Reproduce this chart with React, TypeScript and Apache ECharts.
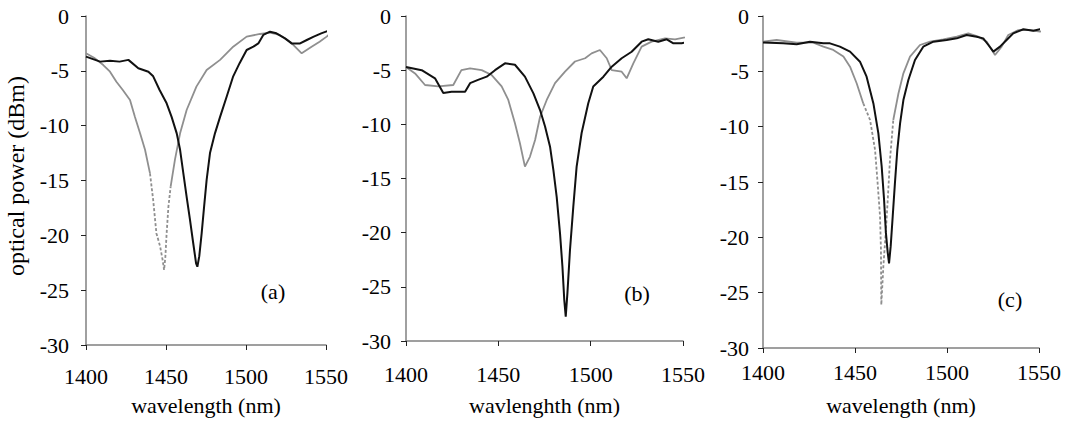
import React, { useEffect, useRef } from "react";
import * as echarts from "echarts";

// ---- tick labels / texts ----
const xMin = 1400;
const xMax = 1550;
const xStep = 50;
const yMin = -30;
const yMax = 0;
const yStep = 5;
const panelLabels = ["(a)", "(b)", "(c)"];
const xTitles = ["wavelength (nm)", "wavlenghth (nm)", "wavelength (nm)"];
const yTitle = "optical power (dBm)";

// ---- panel (a) ----
const aBlack: [number, number][] = [
  [1400, -3.7], [1408.8, -4.16], [1415, -4.07], [1421, -4.16], [1426.5, -4.0], [1432.7, -4.77],
  [1439, -5.08], [1442, -5.5], [1446, -6.75], [1450.4, -7.96], [1453.5, -9.2], [1456.7, -10.7],
  [1458.8, -12.2], [1460.8, -14.3], [1462.9, -16.5], [1465, -18.6], [1467, -20.7], [1468.8, -22.55],
  [1469.6, -22.86], [1470.8, -21.9], [1472.3, -19.8], [1473.8, -17.4], [1475.4, -14.95], [1477.5, -12.5],
  [1480.6, -10.7], [1483.8, -9.2], [1487.9, -7.36], [1492, -5.5], [1496, -4.3], [1500.4, -3.1],
  [1504.6, -2.8], [1507.7, -2.5], [1510.8, -1.73], [1515, -1.43], [1519, -1.58], [1524.4, -2.04],
  [1528.5, -2.5], [1533.8, -2.5], [1538, -2.19], [1542, -1.9], [1547, -1.58], [1551.5, -1.34], [1554, -1.34],
];
const aGrey: [number, number][] = [
  [1400, -3.4], [1405.6, -3.86], [1410.8, -4.47], [1415, -5.08], [1419, -6.0], [1423, -6.75],
  [1427.5, -7.66], [1430.6, -9.2], [1433.8, -10.7], [1436.9, -12.2], [1440, -14.35], [1442, -16.8],
  [1444, -19.8], [1446.3, -21.0], [1447.9, -22.25], [1448.8, -23.16], [1449.6, -21.95], [1450.4, -19.8],
  [1451.5, -17.4], [1452.9, -15.56], [1455.6, -13.1], [1458.8, -10.7], [1462.9, -8.57], [1469, -6.44],
  [1475.4, -4.92], [1483.8, -4.0], [1492, -2.8], [1500.4, -1.88], [1508.8, -1.64], [1515, -1.52],
  [1521, -1.73], [1527.5, -2.34], [1534.8, -3.4], [1541, -2.8], [1546, -2.34], [1550.4, -1.88], [1554, -1.43],
];
const aGreyDash: [number, number] = [1440, 1452.9];

// ---- panel (b) ----
const bBlack: [number, number][] = [
  [1400, -4.7], [1408.5, -5.0], [1415.7, -5.75], [1420.2, -7.1], [1424.7, -7.0], [1432, -7.0],
  [1434.7, -6.2], [1439, -5.9], [1443.7, -5.6], [1448.2, -5.0], [1453.6, -4.37], [1459, -4.5],
  [1464.4, -5.6], [1469, -7.14], [1472.6, -8.68], [1475.3, -10.2], [1478, -12.06], [1479.8, -14.2],
  [1481.6, -16.7], [1483.4, -20.06], [1484.7, -23.1], [1485.7, -26.2], [1486.5, -27.75], [1487.4, -25.6],
  [1488.8, -21.6], [1490.6, -17.6], [1492.4, -13.9], [1495.1, -10.8], [1498.7, -8.06], [1501.4, -6.5],
  [1506.9, -5.6], [1511.4, -4.68], [1516.8, -3.9], [1522.2, -3.3], [1527.6, -2.37], [1531.2, -2.15],
  [1536.6, -2.37], [1541.2, -2.15], [1544.8, -2.52], [1549.3, -2.52], [1552.9, -2.37],
];
const bGrey: [number, number][] = [
  [1400, -4.7], [1404.9, -5.3], [1410.3, -6.37], [1417.5, -6.5], [1425.6, -6.37], [1430, -5.0],
  [1434.7, -4.83], [1441, -5.0], [1446.4, -5.45], [1451.8, -6.5], [1455.4, -7.75], [1459, -9.9],
  [1461.7, -11.75], [1464.4, -13.9], [1467.1, -13.0], [1469.9, -11.45], [1472.6, -9.3], [1476.2, -7.75],
  [1480.7, -6.2], [1486.1, -5.14], [1491.5, -4.2], [1497, -3.9], [1500.5, -3.45], [1505, -3.14],
  [1508.7, -3.9], [1511.4, -5.0], [1516.8, -5.14], [1519.5, -5.75], [1523.1, -4.37], [1527.6, -2.83],
  [1533, -2.37], [1540.3, -2.06], [1545.7, -2.15], [1551.1, -1.97], [1552.9, -1.9],
];

// ---- panel (c) ----
const cBlack: [number, number][] = [
  [1400, -2.4], [1411, -2.47], [1418.3, -2.56], [1425.5, -2.32], [1432.8, -2.47], [1436.4, -2.47],
  [1441.8, -2.77], [1447.3, -3.22], [1452.7, -4.13], [1456.3, -5.48], [1460, -7.9], [1462.7, -10.6],
  [1464.5, -13.6], [1465.8, -16.6], [1466.8, -19.6], [1467.8, -21.4], [1468.5, -22.35], [1469.4, -20.8],
  [1470.5, -18.1], [1471.7, -15.1], [1473, -12.1], [1474.5, -9.7], [1476.3, -7.6], [1479, -5.78],
  [1482.6, -3.98], [1487.1, -2.77], [1492.6, -2.32], [1499.8, -2.17], [1505.3, -2.02], [1510.7, -1.72],
  [1516.1, -1.87], [1519.7, -2.02], [1522.5, -2.62], [1525.2, -3.22], [1528.8, -2.77], [1532.4, -2.17],
  [1536, -1.57], [1541.5, -1.2], [1546.9, -1.33], [1550.5, -1.2], [1553.8, -1.33],
];
const cGrey: [number, number][] = [
  [1400, -2.32], [1407.4, -2.17], [1418.3, -2.41], [1427.4, -2.41], [1432.8, -2.77], [1438.2, -3.07],
  [1443.7, -3.67], [1447.3, -4.58], [1450.9, -6.08], [1454.5, -7.9], [1458.2, -9.4], [1460.9, -12.1],
  [1462.3, -15.1], [1463.6, -18.1], [1464.1, -21.1], [1464.3, -26.1], [1465.4, -22.65], [1466.7, -19.6],
  [1467.8, -16.6], [1469, -13.0], [1470.8, -9.4], [1473.6, -7.0], [1476.3, -5.18], [1479.9, -3.67],
  [1485.3, -2.62], [1490.8, -2.32], [1498, -2.11], [1505.3, -1.87], [1511.6, -1.57], [1517, -1.87],
  [1521.6, -2.32], [1526.1, -3.52], [1529.7, -2.77], [1533.3, -1.72], [1538.8, -1.27], [1545.1, -1.27],
  [1550.5, -1.42], [1553.3, -1.27],
];
const cGreyDash: [number, number] = [1454.5, 1470.8];

const FONT = "Liberation Serif";
const BLACK = "#111111";
const GREY = "#8f8f8f";

const panels = [
  { black: aBlack, grey: aGrey, dash: aGreyDash as [number, number] | null, grid: { left: 86, top: 16, width: 240, height: 329 }, lblMargin: 20, yMargin: 17, nameGap: 49, label: [273, 291] },
  { black: bBlack, grey: bGrey, dash: null, grid: { left: 406, top: 16, width: 277, height: 325 }, lblMargin: 22, yMargin: 15, nameGap: 53, label: [637, 293] },
  { black: cBlack, grey: cGrey, dash: cGreyDash as [number, number] | null, grid: { left: 763, top: 16, width: 276, height: 332 }, lblMargin: 13, yMargin: 14, nameGap: 46, label: [1010, 299] },
];

export default function App() {
  const ref = useRef<HTMLDivElement>(null);
  useEffect(() => {
    if (!ref.current) return;
    const chart = echarts.init(ref.current, undefined, { renderer: "svg" });
    const grids: any[] = [];
    const xAxes: any[] = [];
    const yAxes: any[] = [];
    const series: any[] = [];
    const graphics: any[] = [];
    const textStyle = { fontFamily: FONT, fontSize: 22, color: "#000" };
    panels.forEach((p, i) => {
      grids.push({ ...p.grid, containLabel: false });
      xAxes.push({
        type: "value", gridIndex: i, min: xMin, max: xMax, interval: xStep,
        name: xTitles[i], nameLocation: "middle", nameGap: p.nameGap,
        nameTextStyle: textStyle,
        axisLine: { show: true, onZero: false, lineStyle: { color: "#808080", width: 1.5 } },
        axisTick: { show: true, inside: false, length: 5, lineStyle: { color: "#222", width: 1 } },
        axisLabel: { ...textStyle, margin: p.lblMargin, formatter: (v: number) => String(v) },
        splitLine: { show: false },
      });
      yAxes.push({
        type: "value", gridIndex: i, min: yMin, max: yMax, interval: yStep,
        axisLine: { show: true, onZero: false, lineStyle: { color: "#808080", width: 1.5 } },
        axisTick: { show: true, inside: false, length: 5, lineStyle: { color: "#222", width: 1 } },
        axisLabel: { ...textStyle, margin: p.yMargin, formatter: (v: number) => String(v) },
        splitLine: { show: false },
      });
      const base = { type: "line", xAxisIndex: i, yAxisIndex: i, symbol: "none", showSymbol: false, clip: false, silent: true };
      if (p.dash) {
        const [from, to] = p.dash;
        const solid: any[] = [];
        p.grey.forEach((pt) => {
          if (pt[0] <= from || pt[0] >= to) solid.push(pt);
          if (pt[0] === from) solid.push([from, null]);
        });
        const dashed = p.grey.filter((pt) => pt[0] >= from && pt[0] <= to);
        series.push({ ...base, data: solid, connectNulls: false, lineStyle: { color: GREY, width: 1.8 } });
        series.push({ ...base, data: dashed, lineStyle: { color: GREY, width: 1.8, type: [3, 2] } });
      } else {
        series.push({ ...base, data: p.grey, lineStyle: { color: GREY, width: 1.8 } });
      }
      series.push({ ...base, data: p.black, lineStyle: { color: BLACK, width: 2 } });
      graphics.push({
        type: "text", x: p.label[0], y: p.label[1],
        style: { text: panelLabels[i], fontFamily: FONT, fontSize: 22, fill: "#000", align: "center", verticalAlign: "middle" },
      });
    });
    graphics.push({
      type: "text", x: 16, y: 176, rotation: Math.PI / 2,
      style: { text: yTitle, fontFamily: FONT, fontSize: 24, fill: "#000", align: "center", verticalAlign: "middle" },
    });
    chart.setOption({
      animation: false,
      backgroundColor: "#fff",
      grid: grids,
      xAxis: xAxes,
      yAxis: yAxes,
      series,
      graphic: graphics,
    });
    return () => chart.dispose();
  }, []);
  return <div ref={ref} style={{ position: "absolute", left: 0, top: 0, width: 1067, height: 423 }} />;
}
